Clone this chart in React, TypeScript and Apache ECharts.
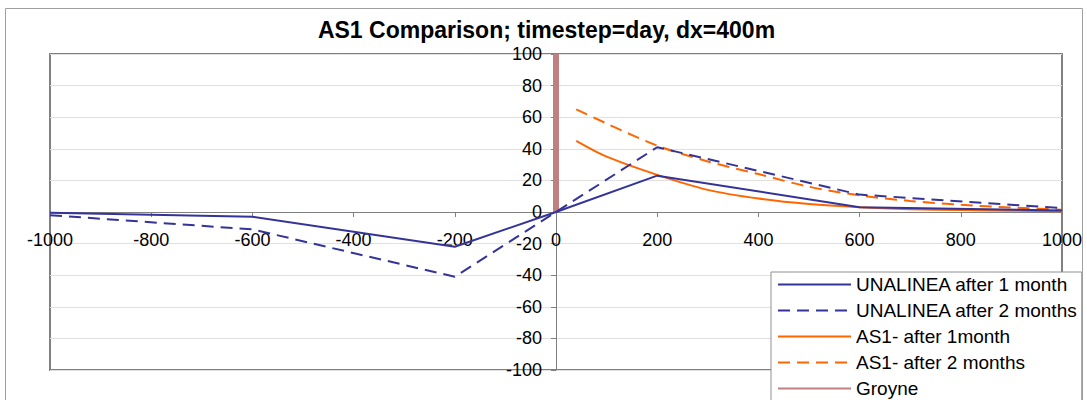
import React, { useEffect, useRef } from "react";
import * as echarts from "echarts";

const titleText = "AS1 Comparison; timestep=day, dx=400m";

const unaX = [-1000, -600, -200, 0, 200, 600, 1000];
const una1 = [-0.5, -3, -22, 0, 23, 3, 1];
const una2 = [-2, -11, -41, 0, 41, 11, 2.5];

const as1X = [40, 100, 200, 300, 400, 500, 600, 700, 800, 900, 1000];
const as1m1 = [45, 35, 23.5, 14, 8.5, 5, 3, 1.8, 1.2, 0.8, 0.5];
const as1m2 = [65, 56, 42, 32, 24, 16, 10.5, 7, 4.6, 2.8, 1.5];

const groyneX = [0, 0];
const groyneY = [0, 100];

const seriesNames = [
  "UNALINEA after 1 month",
  "UNALINEA after 2 months",
  "AS1- after 1month",
  "AS1- after 2 months",
  "Groyne",
];

const pairs = (xs: number[], ys: number[]) => xs.map((x, i) => [x, ys[i]]);

const FONT = "'Liberation Sans', Arial, sans-serif";

export default function App() {
  const ref = useRef<HTMLDivElement>(null);
  useEffect(() => {
    document.body.style.margin = "0";
    document.body.style.overflow = "hidden";
    const chart = echarts.init(ref.current!, null, { renderer: "svg" });
    const blue = "#333399";
    const orange = "#FF6600";
    const groyne = "#C08080";
    // plot area: x 50..1062, y 54..370 ; zero lines at x=556, y=212
    chart.setOption({
      animation: false,
      backgroundColor: "#ffffff",
      textStyle: { fontFamily: FONT },
      graphic: [
        {
          type: "rect",
          z: -10,
          shape: { x: 5.5, y: 8.5, width: 1077, height: 470 },
          style: { fill: "none", stroke: "#a0a0a0", lineWidth: 1 },
        },
        {
          type: "text",
          x: 546.5,
          y: 30,
          style: {
            text: titleText,
            font: `bold 23px ${FONT}`,
            fill: "#000",
            textAlign: "center",
            textVerticalAlign: "middle",
          },
        },
      ],
      grid: {
        left: 50,
        right: 25,
        top: 54,
        bottom: 70,
        show: true,
        borderColor: "#808080",
        borderWidth: 2,
        containLabel: false,
      },
      legend: {
        orient: "vertical",
        left: 771,
        top: 272,
        padding: [3, 4, 4, 6],
        itemWidth: 73,
        itemHeight: 17,
        itemGap: 7,
        backgroundColor: "#ffffff",
        borderColor: "#909090",
        borderWidth: 1,
        borderRadius: 0,
        itemStyle: { opacity: 0 },
        data: seriesNames,
        textStyle: { fontSize: 19, color: "#000", fontFamily: FONT, lineHeight: 19 },
      },
      xAxis: {
        type: "value",
        position: "bottom",
        offset: -158,
        min: -1000,
        max: 1000,
        interval: 200,
        axisLine: { onZero: false, lineStyle: { color: "#808080", width: 1 } },
        axisTick: { show: true, length: 5, lineStyle: { color: "#808080" } },
        axisLabel: {
          fontSize: 18,
          color: "#000",
          margin: 19,
          fontFamily: FONT,
          formatter: (v: number) => String(v),
        },
        splitLine: { show: false },
      },
      yAxis: {
        type: "value",
        position: "left",
        offset: -506,
        min: -100,
        max: 100,
        interval: 20,
        axisLine: { onZero: false, lineStyle: { color: "#808080", width: 1 } },
        axisTick: { show: true, length: 5, lineStyle: { color: "#808080" } },
        axisLabel: {
          fontSize: 18,
          color: "#000",
          margin: 14,
          fontFamily: FONT,
          formatter: (v: number) => String(v),
        },
        splitLine: { show: true, lineStyle: { color: "#e0e0e0", width: 1 } },
      },
      series: [
        {
          name: seriesNames[4],
          type: "line",
          data: pairs(groyneX, groyneY),
          symbol: "none",
          lineStyle: { color: groyne, width: 6, cap: "butt" },
          itemStyle: { color: groyne },
          z: 1,
        },
        {
          name: seriesNames[0],
          type: "line",
          data: pairs(unaX, una1),
          symbol: "none",
          lineStyle: { color: blue, width: 2 },
          itemStyle: { color: blue },
          z: 3,
        },
        {
          name: seriesNames[1],
          type: "line",
          data: pairs(unaX, una2),
          symbol: "none",
          lineStyle: { color: blue, width: 2, type: [12, 7] },
          itemStyle: { color: blue },
          z: 3,
        },
        {
          name: seriesNames[2],
          type: "line",
          data: pairs(as1X, as1m1),
          symbol: "none",
          smooth: 0.3,
          lineStyle: { color: orange, width: 2 },
          itemStyle: { color: orange },
          z: 2,
        },
        {
          name: seriesNames[3],
          type: "line",
          data: pairs(as1X, as1m2),
          symbol: "none",
          smooth: 0.3,
          lineStyle: { color: orange, width: 2, type: [12, 7] },
          itemStyle: { color: orange },
          z: 2,
        },
      ],
    });
    return () => chart.dispose();
  }, []);
  return <div ref={ref} style={{ width: 1087, height: 440 }} />;
}
